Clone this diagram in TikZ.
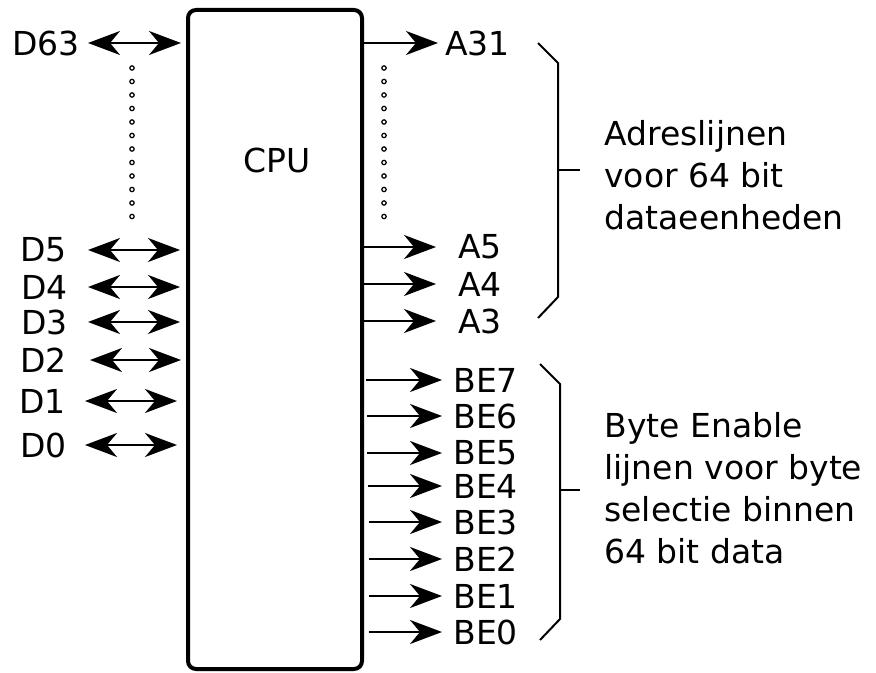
\documentclass[tikz,border=0pt]{standalone}
\usepackage{fontspec}
\setmainfont{DejaVu Sans}
\usetikzlibrary{arrows.meta,positioning}

\begin{document}
\begin{tikzpicture}[
    x=0.5pt, y=-0.5pt,
    >={Stealth[length=16pt,width=12pt,inset=5pt]},
    sig/.style={inner sep=0pt, font=\fontsize{16.5}{20}\selectfont},
    bus/.style={line width=1pt},
    cpubox/.style={draw, line width=2pt, rounded corners=4pt,
                   minimum width=87pt, minimum height=329.5pt, inner sep=0pt},
    note/.style={align=left, inner sep=0pt,
                 font=\fontsize{16.5}{21}\selectfont},
    brace/.style={line width=1pt},
    dots/.style={line width=0.6pt, radius=2.2},
]
\useasboundingbox (0,0) rectangle (876,673);

% --- CPU block ---
\node[cpubox] (cpu) at (275,339.5) {};
\node[sig] (cpulab) at (277,160) {CPU};

% --- data lines (bidirectional) ---
\foreach \n/\y/\l/\a/\b in {63/43/80/88/181, 5/250/67/88/180, 4/287/68/88/180,
                            3/322/68/88/180, 2/360/67/90/181, 1/401/66/85/177,
                            0/445/67/85/177} {
  \node[sig, anchor=east] (d\n) at (\l,\y) {D\n};
  \coordinate (dp\n) at (\b,\y);
  \draw[bus, <->] ([xshift=\a/2-\l/2]d\n.east) -- (dp\n);
}
\foreach \k in {0,...,11}
  \draw[dots] (132,68+\k*13.5) circle;

% --- address lines ---
\node[sig, anchor=west] (a31) at (445,43) {A31};
\coordinate (ap31) at (364,43);
\draw[bus, ->] (ap31) -- ([xshift=-3.5pt]a31.west);
\foreach \n/\y in {5/247, 4/284, 3/321} {
  \node[sig, anchor=west] (a\n) at (458,\y) {A\n};
  \coordinate (ap\n) at (364,\y);
  \draw[bus, ->] (ap\n) -- ([xshift=-11pt]a\n.west);
}
\foreach \k in {0,...,11}
  \draw[dots] (384,68+\k*13.5) circle;

% --- byte enable lines ---
\foreach \n/\y/\a in {7/380/366, 6/416/367, 5/453/367, 4/486/368,
                      3/522/369, 2/559/369, 1/596/369, 0/632/369} {
  \node[sig, anchor=west] (be\n) at (453,\y) {BE\n};
  \coordinate (bp\n) at (\a,\y);
  \draw[bus, ->] (bp\n) -- ([xshift=-5.5pt]be\n.west);
}

% --- braces ---
\draw[brace] (538,43) -- (558,63) -- (558,297) -- (538,318);
\draw[brace] (558,170) -- (580,170);
\draw[brace] (540,364) -- (560,384) -- (560,619) -- (540,640);
\draw[brace] (560,490) -- (580,490);

\node[note, anchor=west] (adr) at (604,175)
  {Adreslijnen\\voor 64 bit\\dataeenheden};
\node[note, anchor=west] (ben) at (604,488)
  {Byte Enable\\lijnen voor byte\\selectie binnen\\64 bit data};

\end{tikzpicture}
\end{document}
